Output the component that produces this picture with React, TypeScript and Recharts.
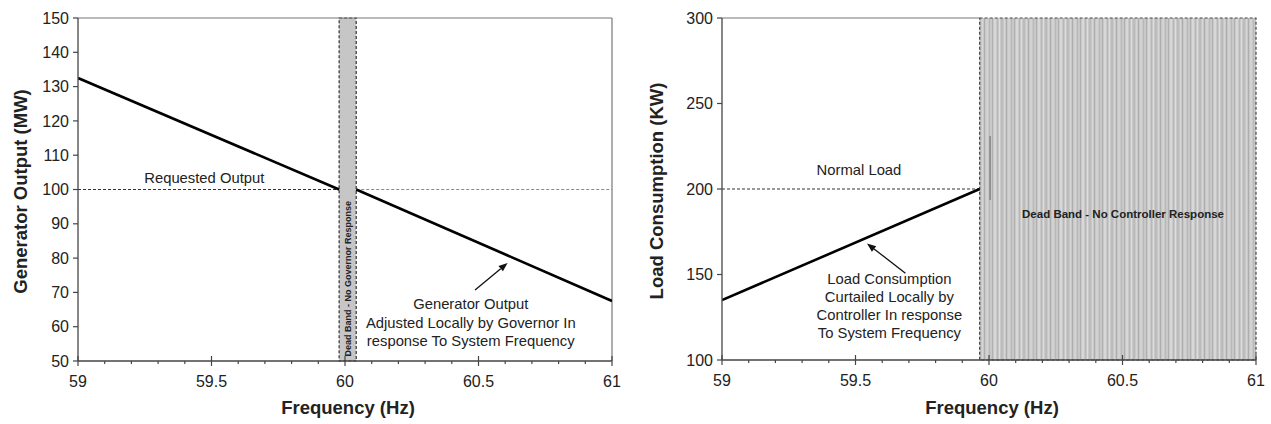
import React from "react";
import { LineChart, Line, XAxis, YAxis, ReferenceArea, ReferenceLine, ReferenceDot } from "recharts";

const FREQ_TICKS = [59, 59.1, 59.2, 59.3, 59.4, 59.5, 59.6, 59.7, 59.8, 59.9, 60, 60.1, 60.2, 60.3, 60.4, 60.5, 60.6, 60.7, 60.8, 60.9, 61];
const GEN_TICKS = [50, 60, 70, 80, 90, 100, 110, 120, 130, 140, 150];
const LOAD_TICKS = [100, 150, 200, 250, 300];

// governor droop (left)
const GOV_DEADBAND = [59.978, 60.042];
const governorLow = [{ x: 59, y: 132.5 }, { x: 59.978, y: 100 }];
const governorHigh = [{ x: 60.042, y: 100 }, { x: 61, y: 67.5 }];
const requestedLow = [{ x: 59, y: 100 }, { x: 59.978, y: 100 }];
const requestedHigh = [{ x: 60.042, y: 100 }, { x: 61, y: 100 }];
const GOV_NOTES = [
  { x: 59.473, y: 103.3, lines: ["Requested Output"] },
  { x: 60.471, y: 66.6, lines: ["Generator Output", "Adjusted Locally by Governor In", "response To System Frequency"] },
];
const GOV_ARROW = [{ x: 60.487, y: 70.7 }, { x: 60.609, y: 78.6 }];
const GOV_BAND_TEXT = { x: 60.01, y: 51.3, text: "Dead Band - No Governor Response" };

// load controller (right)
const LOAD_DEADBAND = [59.965, 61];
const loadCurve = [{ x: 59, y: 135 }, { x: 59.965, y: 200 }];
const normalLoad = [{ x: 59, y: 200 }, { x: 59.965, y: 200 }];
const LOAD_NOTES = [
  { x: 59.513, y: 211.1, lines: ["Normal Load"] },
  { x: 59.627, y: 147.2, lines: ["Load Consumption", "Curtailed Locally by", "Controller In response", "To System Frequency"] },
];
const LOAD_ARROW = [{ x: 59.687, y: 150.7 }, { x: 59.543, y: 168.2 }];
const LOAD_BAND_TEXT = { x: 60.502, y: 185.2, text: "Dead Band - No Controller Response" };
const LOAD_MARK = [{ x: 60.004, y: 193.6 }, { x: 60.004, y: 231 }];

const AXIS = "#454545";

function FreqTick(props: any) {
  const { x, y, payload } = props;
  const v = payload.value;
  const major = Math.abs(v * 2 - Math.round(v * 2)) < 1e-6;
  return (
    <g>
      {major ? (
        <line x1={x} x2={x} y1={y - 5} y2={y + 5} stroke={AXIS} strokeWidth={1.2} />
      ) : (
        <line x1={x} x2={x} y1={y} y2={y + 3} stroke={AXIS} strokeWidth={1.2} />
      )}
      {major && (
        <text x={x} y={y + 20} textAnchor="middle" dominantBaseline="central" fontSize={16} fill="#222">
          {String(v)}
        </text>
      )}
    </g>
  );
}

const xTitle = (props: any) => {
  const { viewBox } = props;
  return (
    <text x={viewBox.x + viewBox.width / 2 + 3} y={407} textAnchor="middle" dominantBaseline="central" fontSize={18.5} fontWeight="bold" fill="#222">
      Frequency (Hz)
    </text>
  );
};

const yTitle = (text: string, cx: number) => (props: any) => {
  const { viewBox } = props;
  const cy = viewBox.y + viewBox.height / 2 + 2;
  return (
    <text x={cx} y={cy} transform={`rotate(-90 ${cx} ${cy})`} textAnchor="middle" dominantBaseline="central" fontSize={18.5} fontWeight="bold" fill="#222">
      {text}
    </text>
  );
};

const note = (lines: string[], gap: number) => (props: any) => {
  const { viewBox } = props;
  const cx = viewBox.x + viewBox.width / 2;
  const cy = viewBox.y + viewBox.height / 2;
  return (
    <text textAnchor="middle" dominantBaseline="central" fontSize={14.8} fill="#222">
      {lines.map((l, i) => (
        <tspan key={i} x={cx} y={cy + i * gap}>
          {l}
        </tspan>
      ))}
    </text>
  );
};

const bandText = (text: string, size: number, vertical: boolean) => (props: any) => {
  const { viewBox } = props;
  const cx = viewBox.x + viewBox.width / 2;
  const cy = viewBox.y + viewBox.height / 2;
  return (
    <text
      x={cx}
      y={cy}
      transform={vertical ? `rotate(-90 ${cx} ${cy})` : undefined}
      textAnchor={vertical ? "start" : "middle"}
      dominantBaseline="central"
      fontSize={size}
      fontWeight="bold"
      fill="#222"
    >
      {text}
    </text>
  );
};

function Arrow(props: any) {
  const { x1, y1, x2, y2 } = props;
  const a = Math.atan2(y2 - y1, x2 - x1);
  const len = 9;
  const hw = 3.5;
  const bx = x2 - len * Math.cos(a);
  const by = y2 - len * Math.sin(a);
  const px = -Math.sin(a) * hw;
  const py = Math.cos(a) * hw;
  return (
    <g>
      <line x1={x1} y1={y1} x2={bx} y2={by} stroke="#111" strokeWidth={1.3} />
      <polygon points={`${x2},${y2} ${bx + px},${by + py} ${bx - px},${by - py}`} fill="#111" />
    </g>
  );
}

function GovernorChart() {
  return (
    <LineChart width={640} height={424} margin={{ top: 18, right: 28, left: 18, bottom: 13 }}>
      <XAxis
        dataKey="x"
        type="number"
        domain={[59, 61]}
        ticks={FREQ_TICKS}
        interval={0}
        allowDataOverflow
        height={50}
        tickSize={0}
        tickMargin={0}
        tickLine={false}
        tick={<FreqTick />}
        axisLine={{ stroke: AXIS, strokeWidth: 1.3 }}
        label={{ content: xTitle }}
      />
      <YAxis
        type="number"
        domain={[50, 150]}
        ticks={GEN_TICKS}
        interval={0}
        width={60}
        tickSize={5}
        tickMargin={4}
        tick={{ fill: "#222", fontSize: 16 }}
        tickLine={{ stroke: AXIS, strokeWidth: 1.2 }}
        axisLine={{ stroke: AXIS, strokeWidth: 1.3 }}
        label={{ content: yTitle("Generator Output (MW)", 20) }}
      />
      <ReferenceLine y={150} stroke="#777" strokeWidth={1.2} />
      <ReferenceLine x={61} stroke="#777" strokeWidth={1.2} />
      <ReferenceArea x1={GOV_DEADBAND[0]} x2={GOV_DEADBAND[1]} y1={50} y2={150} fill="#c6c6c6" fillOpacity={1} stroke="#333" strokeWidth={1.2} strokeDasharray="3 2" />
      <Line data={requestedLow} dataKey="y" stroke="#333" strokeWidth={1.2} strokeDasharray="3 2" dot={false} isAnimationActive={false} />
      <Line data={requestedHigh} dataKey="y" stroke="#8a8a8a" strokeWidth={1.1} strokeDasharray="3 2" dot={false} isAnimationActive={false} />
      <Line data={governorLow} dataKey="y" stroke="#000" strokeWidth={2.6} dot={false} isAnimationActive={false} />
      <Line data={governorHigh} dataKey="y" stroke="#000" strokeWidth={2.6} dot={false} isAnimationActive={false} />
      <ReferenceDot x={GOV_BAND_TEXT.x} y={GOV_BAND_TEXT.y} r={0} stroke="none" label={{ content: bandText(GOV_BAND_TEXT.text, 9, true) }} />
      {GOV_NOTES.map((n, i) => (
        <ReferenceDot key={i} x={n.x} y={n.y} r={0} stroke="none" label={{ content: note(n.lines, 18.5) }} />
      ))}
      <ReferenceLine segment={GOV_ARROW} shape={Arrow} />
    </LineChart>
  );
}

function LoadChart() {
  return (
    <LineChart width={631} height={424} margin={{ top: 18, right: 15, left: 22, bottom: 14 }}>
      <defs>
        <pattern id="bandStripes" width="22" height="4" patternUnits="userSpaceOnUse">
          <rect width="22" height="4" fill="#c8c8c8" />
          <rect x="0" width="1" height="4" fill="#b0b0b0" />
          <rect x="2" width="2" height="4" fill="#d8d8d8" />
          <rect x="5" width="1" height="4" fill="#b8b8b8" />
          <rect x="7" width="1" height="4" fill="#dddddd" />
          <rect x="9" width="2" height="4" fill="#bcbcbc" />
          <rect x="12" width="1" height="4" fill="#d6d6d6" />
          <rect x="14" width="1" height="4" fill="#adadad" />
          <rect x="16" width="2" height="4" fill="#d2d2d2" />
          <rect x="19" width="1" height="4" fill="#b8b8b8" />
        </pattern>
      </defs>
      <XAxis
        dataKey="x"
        type="number"
        domain={[59, 61]}
        ticks={FREQ_TICKS}
        interval={0}
        allowDataOverflow
        height={50}
        tickSize={0}
        tickMargin={0}
        tickLine={false}
        tick={<FreqTick />}
        axisLine={{ stroke: AXIS, strokeWidth: 1.3 }}
        label={{ content: xTitle }}
      />
      <YAxis
        type="number"
        domain={[100, 300]}
        ticks={LOAD_TICKS}
        interval={0}
        width={60}
        tickSize={5}
        tickMargin={4}
        tick={{ fill: "#222", fontSize: 16 }}
        tickLine={{ stroke: AXIS, strokeWidth: 1.2 }}
        axisLine={{ stroke: AXIS, strokeWidth: 1.3 }}
        label={{ content: yTitle("Load Consumption (KW)", 16.5) }}
      />
      <ReferenceLine segment={[{ x: 59, y: 300 }, { x: LOAD_DEADBAND[0], y: 300 }]} stroke="#777" strokeWidth={1.2} />
      <ReferenceArea x1={LOAD_DEADBAND[0]} x2={LOAD_DEADBAND[1]} y1={100} y2={300} fill="url(#bandStripes)" fillOpacity={1} stroke="#444" strokeWidth={1.2} strokeDasharray="3 2" />
      <ReferenceLine segment={LOAD_MARK} stroke="#666" strokeWidth={1} />
      <Line data={normalLoad} dataKey="y" stroke="#333" strokeWidth={1.2} strokeDasharray="3 2" dot={false} isAnimationActive={false} />
      <Line data={loadCurve} dataKey="y" stroke="#000" strokeWidth={2.6} dot={false} isAnimationActive={false} />
      <ReferenceDot x={LOAD_BAND_TEXT.x} y={LOAD_BAND_TEXT.y} r={0} stroke="none" label={{ content: bandText(LOAD_BAND_TEXT.text, 11.5, false) }} />
      {LOAD_NOTES.map((n, i) => (
        <ReferenceDot key={i} x={n.x} y={n.y} r={0} stroke="none" label={{ content: note(n.lines, 18) }} />
      ))}
      <ReferenceLine segment={LOAD_ARROW} shape={Arrow} />
    </LineChart>
  );
}

export default function App() {
  return (
    <div
      style={{
        position: "absolute",
        left: 0,
        top: 0,
        width: 1271,
        height: 424,
        background: "#fff",
        fontFamily: "Arial, 'Liberation Sans', sans-serif",
      }}
    >
      <div style={{ position: "absolute", left: 0, top: 0 }}>
        <GovernorChart />
      </div>
      <div style={{ position: "absolute", left: 640, top: 0 }}>
        <LoadChart />
      </div>
    </div>
  );
}
